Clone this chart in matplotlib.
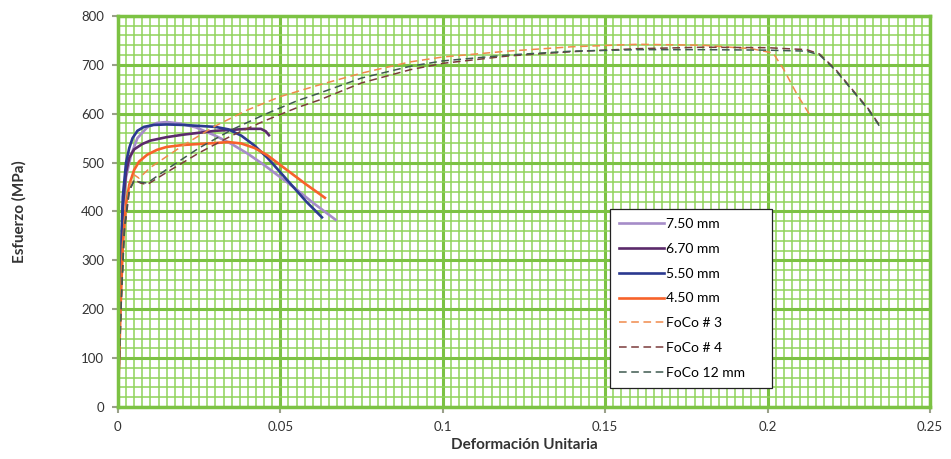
import matplotlib.pyplot as plt
from matplotlib.ticker import MultipleLocator

# stress-strain curves (strain, MPa)
s750_x = [0, 0.0008, 0.0015, 0.0025, 0.004, 0.006, 0.009, 0.012, 0.015, 0.019, 0.024, 0.03, 0.035, 0.04, 0.045, 0.05, 0.055, 0.06, 0.064, 0.067]
s750_y = [0, 250, 400, 470, 515, 550, 572, 581, 583, 580, 572, 555, 538, 518, 495, 470, 445, 418, 398, 383]

s670_x = [0, 0.0008, 0.0015, 0.0025, 0.0035, 0.005, 0.0075, 0.01, 0.015, 0.02, 0.025, 0.03, 0.035, 0.04, 0.044, 0.0455, 0.0465]
s670_y = [0, 260, 410, 480, 510, 527, 538, 545, 552, 557, 561, 565, 567, 569, 569, 564, 556]

s550_x = [0, 0.0008, 0.0015, 0.0025, 0.0035, 0.0045, 0.006, 0.008, 0.011, 0.015, 0.02, 0.025, 0.03, 0.034, 0.038, 0.042, 0.046, 0.05, 0.054, 0.058, 0.0628]
s550_y = [0, 280, 430, 500, 530, 550, 565, 573, 577, 578, 577, 575, 573, 568, 555, 535, 510, 480, 450, 420, 388]

s450_x = [0, 0.0008, 0.0015, 0.0025, 0.0035, 0.005, 0.0065, 0.009, 0.012, 0.015, 0.02, 0.025, 0.03, 0.034, 0.038, 0.042, 0.046, 0.05, 0.054, 0.058, 0.0612, 0.0637]
s450_y = [0, 200, 330, 415, 455, 485, 502, 516, 526, 532, 536, 538, 540, 542, 539, 530, 515, 495, 475, 455, 440, 428]

foco3_x = [0, 0.001, 0.002, 0.0035, 0.005, 0.0065, 0.01, 0.02, 0.03, 0.04, 0.05, 0.062, 0.075, 0.09, 0.1, 0.12, 0.14, 0.16, 0.18, 0.195, 0.2017, 0.205, 0.209, 0.2133]
foco3_y = [0, 220, 380, 450, 475, 468, 490, 535, 575, 608, 635, 659, 683, 706, 716, 728, 737, 742, 740, 733, 724, 690, 640, 594]

foco4_x = [0, 0.001, 0.002, 0.0035, 0.005, 0.007, 0.009, 0.015, 0.025, 0.035, 0.045, 0.055, 0.062, 0.075, 0.09, 0.1, 0.12, 0.14, 0.16, 0.18, 0.2, 0.212, 0.216, 0.221, 0.226, 0.231, 0.235]
foco4_y = [0, 210, 360, 440, 465, 458, 455, 480, 520, 555, 585, 612, 628, 663, 690, 703, 718, 727, 733, 736, 735, 731, 722, 690, 650, 610, 571]

foco12_x = [0, 0.001, 0.002, 0.0035, 0.005, 0.007, 0.009, 0.015, 0.025, 0.035, 0.045, 0.055, 0.062, 0.075, 0.09, 0.1, 0.12, 0.14, 0.16, 0.18, 0.2, 0.212, 0.216, 0.221, 0.226, 0.231, 0.235]
foco12_y = [0, 215, 370, 445, 462, 460, 458, 486, 530, 567, 598, 626, 642, 673, 697, 708, 720, 728, 731, 731, 730, 728, 720, 688, 648, 608, 569]

labels = ['7.50 mm', '6.70 mm', '5.50 mm', '4.50 mm', 'FoCo # 3', 'FoCo # 4', 'FoCo 12 mm']

x_ticks = [0, 0.05, 0.1, 0.15, 0.2, 0.25]
x_ticklabels = ['0', '0.05', '0.1', '0.15', '0.2', '0.25']
y_ticks = [0, 100, 200, 300, 400, 500, 600, 700, 800]

plt.rcParams['font.family'] = ['Lato', 'DejaVu Sans']

fig = plt.figure(figsize=(9.51, 4.59), dpi=100)
ax = fig.add_axes([0.124, 0.1133, 0.854, 0.852])

grid_green = '#8fd35a'
major_green = '#7cc243'

ax.set_xlim(0, 0.25)
ax.set_ylim(0, 800)
ax.xaxis.set_minor_locator(MultipleLocator(0.0025))
ax.yaxis.set_minor_locator(MultipleLocator(20))
ax.grid(which='minor', color=grid_green, linewidth=1.1, zorder=0)
ax.grid(which='major', color=major_green, linewidth=2.2, zorder=0)
ax.set_axisbelow(True)

ax.plot(s750_x, s750_y, color='#a58cc8', lw=1.9, label=labels[0])
ax.plot(s670_x, s670_y, color='#5b2a6b', lw=1.9, label=labels[1])
ax.plot(s550_x, s550_y, color='#2b3990', lw=1.9, label=labels[2])
ax.plot(s450_x, s450_y, color='#f7622a', lw=1.9, label=labels[3])
ax.plot(foco3_x, foco3_y, color='#f08a4b', lw=1.1, ls=(0, (5, 3)), label=labels[4])
ax.plot(foco4_x, foco4_y, color='#7a3b3b', lw=1.1, ls=(0, (5, 3)), label=labels[5])
ax.plot(foco12_x, foco12_y, color='#3f5a50', lw=1.1, ls=(0, (5, 3)), label=labels[6])

ax.set_xticks(x_ticks)
ax.set_xticklabels(x_ticklabels)
ax.set_yticks(y_ticks)
ax.tick_params(which='major', length=4, width=1.5, color='#9aa08a', labelsize=9.5, labelcolor='#333333', pad=6)
ax.tick_params(which='minor', length=0)
for sp in ax.spines.values():
    sp.set_color(major_green)
    sp.set_linewidth(2.5)

ax.set_xlabel('Deformación Unitaria', fontsize=11, fontweight='bold', color='#333333', labelpad=4)
ax.set_ylabel('Esfuerzo (MPa)', fontsize=11, fontweight='bold', color='#333333', labelpad=39)

leg = ax.legend(loc='lower left', bbox_to_anchor=(0.606, 0.049, 0.199, 0.46), mode='expand',
                fontsize=10, frameon=True, fancybox=False, handlelength=3.2, handletextpad=0.2,
                labelspacing=0.92, borderaxespad=0, borderpad=0.65)
leg.get_frame().set_edgecolor('#222222')
leg.get_frame().set_linewidth(0.9)
leg.get_frame().set_alpha(1)

fig.savefig('out.png', dpi=100)
